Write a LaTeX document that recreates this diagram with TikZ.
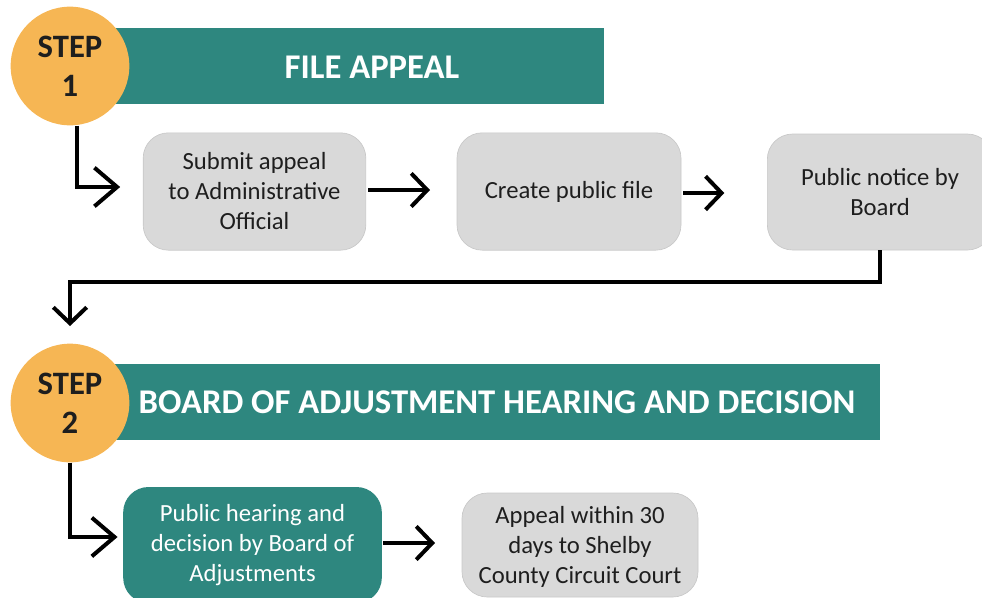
\documentclass[tikz,border=0pt]{standalone}
\usepackage{fontspec}
\setmainfont{Carlito}
\usetikzlibrary{arrows.meta,calc}
\definecolor{tealA}{HTML}{2E877F}
\definecolor{orngA}{HTML}{F6B654}
\definecolor{boxgray}{HTML}{D9D9D9}
\definecolor{boxline}{HTML}{C8C8C8}
\definecolor{txtdark}{HTML}{1E1E1E}
\begin{document}
\begin{tikzpicture}[x=0.75pt,y=-0.75pt,
  banner/.style={rectangle, fill=tealA, draw=none, inner sep=0pt, minimum height=57pt},
  bannertext/.style={text=white, font=\fontsize{26}{30}\selectfont\bfseries, inner sep=0pt},
  stepcirc/.style={circle, fill=orngA, draw=none, minimum size=89pt, inner sep=0pt, align=center, text=txtdark, font=\fontsize{24.5}{29}\selectfont\bfseries},
  graybox/.style={rectangle, rounded corners=19pt, fill=boxgray, draw=boxline, line width=0.5pt, align=center, text=txtdark, font=\fontsize{18.5}{22.5}\selectfont, inner sep=0pt},
  tealbox/.style={rectangle, rounded corners=19pt, fill=tealA, draw=none, align=center, text=white, font=\fontsize{18.5}{22.5}\selectfont, inner sep=0pt},
  flow/.style={line width=3pt, draw=black, -{Straight Barb[length=12pt,width=25pt]}},
  bigflow/.style={line width=3pt, draw=black, -{Straight Barb[length=17pt,width=29pt]}}
]
\useasboundingbox (0,0) rectangle (982,597);
% step 1
\node[banner, minimum width=370.5pt] (b1) at (357,66) {};
\node[bannertext] (t1) at (372,67) {FILE APPEAL};
\node[stepcirc] (c1) at (70,66) {STEP\\1};
% step 1 boxes
\node[graybox, minimum width=167pt, minimum height=88pt] (A) at (254.5,191.5) {Submit appeal\\to Administrative\\Official};
\node[graybox, minimum width=168pt, minimum height=88pt] (B) at (569,191.5) {Create public file};
\node[graybox, minimum width=169pt, minimum height=87pt] (C) at (880,192) {Public notice by\\Board};
% step 2
\node[banner, minimum width=577.5pt] (b2) at (495,402) {};
\node[bannertext] (t2) at (497,402) {BOARD OF ADJUSTMENT HEARING AND DECISION};
\node[stepcirc] (c2) at (70,403) {STEP\\2};
\node[tealbox, minimum width=194pt, minimum height=87pt] (D) at (252.5,545) {Public hearing and\\decision by Board of\\Adjustments};
\node[graybox, minimum width=177pt, minimum height=78pt, text depth=0pt] (E) at (580,545) {Appeal within 30\\days to Shelby\\County Circuit Court};
% connectors
\draw[bigflow, shorten >=17pt] ($(c1.south)+(7,0)$) |- ($(A.west)+(0,-4.5)$);
\draw[flow, shorten >=20pt] ($(A.east)+(2,-1.5)$) -- ($(B.west)+(0,-1.5)$);
\draw[flow, shorten >=32pt] ($(B.east)+(2,1.5)$) -- ($(C.west)+(0,1)$);
\draw[flow, shorten >=13pt] (C.south) -- ++(0,32) -| (c2.north);
\draw[bigflow, shorten >=4pt] (c2.south) |- ($(D.west)+(0,-8)$);
\draw[flow, shorten >=20pt] ($(D.east)+(1,-2)$) -- ($(E.west)+(0,-2)$);
\end{tikzpicture}
\end{document}
